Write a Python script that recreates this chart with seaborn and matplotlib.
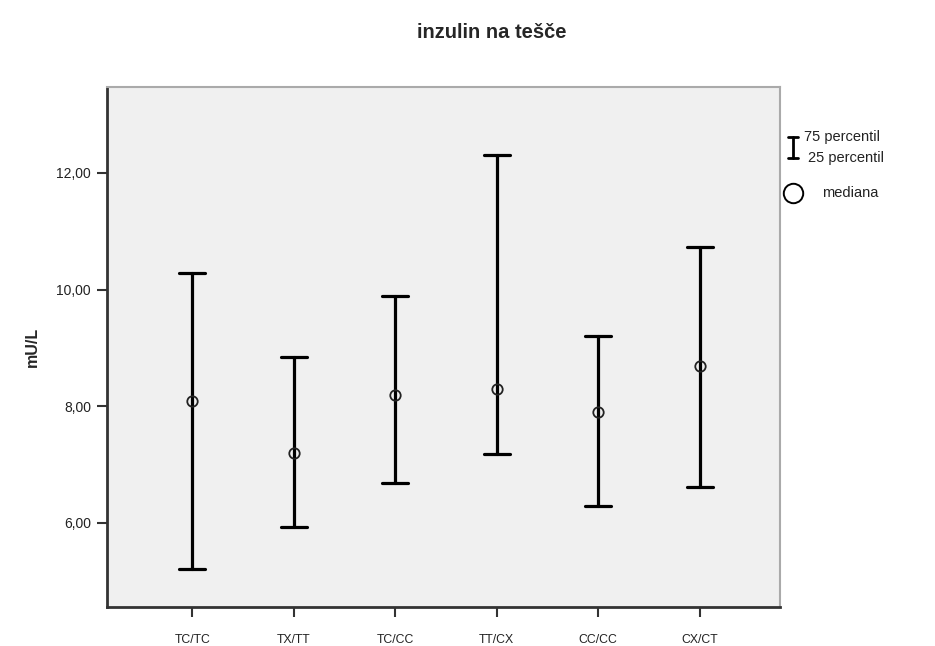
import numpy as np
import pandas as pd
import matplotlib
matplotlib.use("Agg")
import matplotlib.pyplot as plt
from matplotlib.lines import Line2D
import seaborn as sns

categories = ["TC/TC", "TX/TT", "TC/CC", "TT/CX", "CC/CC", "CX/CT"]
p25 = [5.21, 5.93, 6.68, 7.18, 6.29, 6.61]
median = [8.09, 7.20, 8.19, 8.30, 7.90, 8.69]
p75 = [10.29, 8.85, 9.89, 12.31, 9.21, 10.73]
yticks = [6, 8, 10, 12]
ytick_labels = ["6,00", "8,00", "10,00", "12,00"]

rows = []
for c, lo, me, hi in zip(categories, p25, median, p75):
    for v in (lo, me, hi):
        rows.append({"genotip": c, "value": v})
df = pd.DataFrame(rows)

sns.set_style("white")
plt.rcParams["font.family"] = ["Liberation Sans", "DejaVu Sans"]

fig = plt.figure(figsize=(9.35, 6.46), dpi=100)
ax = fig.add_axes([107 / 935, 1 - 607 / 646, (780 - 107) / 935, (607 - 87) / 646])
ax.set_facecolor("#f0f0f0")

sns.pointplot(
    data=df, x="genotip", y="value", order=categories,
    estimator="median",
    errorbar=lambda v: (v.min(), v.max()),
    color="black", markers="o", linestyles="none",
    capsize=0.26, err_kws={"linewidth": 2.3},
    markersize=7.5, markeredgewidth=1.3,
    ax=ax,
)
for ln in ax.lines:
    if ln.get_marker() == "o":
        ln.set_markerfacecolor("none")
        ln.set_markeredgecolor("#222222")
        ln.set_zorder(5)

ax.set_ylim(4.56, 13.47)
ax.set_xlim(-0.84, 5.79)
ax.set_yticks(yticks)
ax.set_yticklabels(ytick_labels, fontsize=10, color="#222222")
ax.set_xticks(range(len(categories)))
ax.set_xticklabels(categories, fontsize=8.8, color="#222222")
ax.tick_params(axis="both", direction="out", length=7.5, width=1.5, color="#333333",
               bottom=True, left=True, top=False, right=False)
ax.tick_params(axis="x", pad=12)
ax.tick_params(axis="y", pad=4)
ax.set_xlabel("")
ax.set_ylabel("mU/L", fontsize=11.5, fontweight="bold", labelpad=12)

for side in ["left", "bottom"]:
    ax.spines[side].set_color("#333333")
    ax.spines[side].set_linewidth(2.0)
for side in ["top", "right"]:
    ax.spines[side].set_visible(True)
    ax.spines[side].set_color("#aaaaaa")
    ax.spines[side].set_linewidth(1.5)

fig.text(492 / 935, 1 - 33 / 646, "inzulin na tešče", ha="center", va="center",
         fontsize=14.5, fontweight="bold")

# legend (drawn in figure coordinates)
def fx(px):
    return px / 935
def fy(py):
    return 1 - py / 646

fig.add_artist(Line2D([fx(793), fx(793)], [fy(137), fy(158)], color="black", lw=2.0))
fig.add_artist(Line2D([fx(788), fx(798)], [fy(137), fy(137)], color="black", lw=2.0))
fig.add_artist(Line2D([fx(788), fx(798)], [fy(158), fy(158)], color="black", lw=2.0))
fig.text(fx(804), fy(137), "75 percentil", ha="left", va="center", fontsize=10.5, color="#222222")
fig.text(fx(808), fy(158), "25 percentil", ha="left", va="center", fontsize=10.5, color="#222222")
fig.add_artist(Line2D([fx(793)], [fy(193)], marker="o", markersize=14,
                      markerfacecolor="none", markeredgecolor="black", markeredgewidth=1.4))
fig.text(fx(822), fy(193), "mediana", ha="left", va="center", fontsize=10.5, color="#222222")

fig.savefig("out.png", dpi=100, facecolor="white")
